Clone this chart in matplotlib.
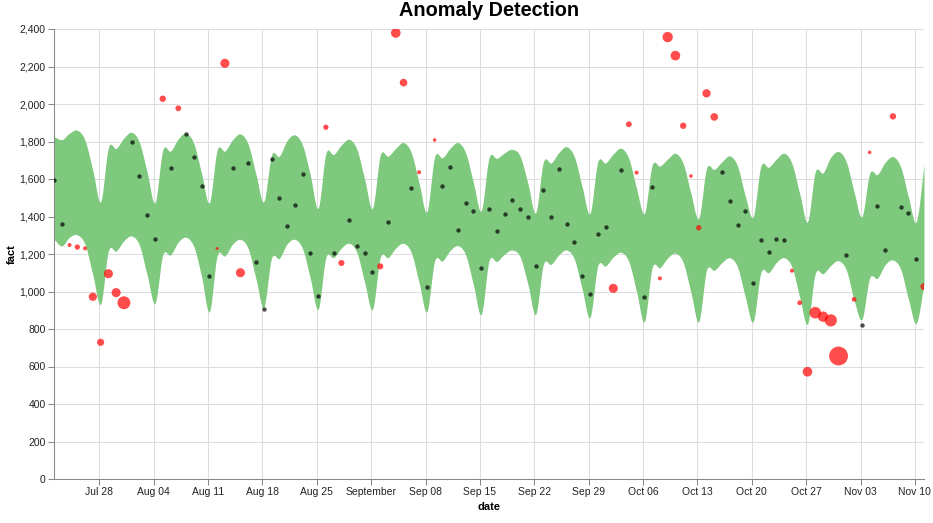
import matplotlib
matplotlib.use("Agg")
import matplotlib.pyplot as plt
import matplotlib.dates as mdates
from matplotlib.ticker import FixedLocator, FuncFormatter
import numpy as np
import pandas as pd

plt.rcParams["font.family"] = ["Liberation Sans", "DejaVu Sans"]

# daily observations, Jul 22 .. Nov 11 (timestamps sit a few hours past midnight)
dates = pd.date_range("2019-07-22 04:00", "2019-11-11 04:00", freq="D")

fact = [
    1595, 1362, 1248, 1237, 1230, 972, 729, 1095, 994, 940,
    1796, 1614, 1408, 1280, 2028, 1660, 1977, 1840, 1717, 1565,
    1081, 1229, 2217, 1659, 1100, 1685, 1159, 905, 1708, 1500,
    1351, 1461, 1627, 1205, 978, 1876, 1207, 1152, 1381, 1244,
    1205, 1102, 1134, 1372, 2379, 2114, 1554, 1636, 1023, 1808,
    1565, 1662, 1328, 1472, 1431, 1124, 1442, 1324, 1415, 1488,
    1442, 1397, 1136, 1543, 1397, 1655, 1360, 1262, 1083, 987,
    1308, 1344, 1017, 1650, 1892, 1634, 971, 1559, 1070, 2357,
    2258, 1884, 1616, 1340, 2057, 1931, 1637, 1485, 1353, 1428,
    1047, 1276, 1212, 1282, 1276, 1111, 940, 572, 887, 866,
    846, 656, 1193, 958, 820, 1742, 1458, 1220, 1934, 1451,
    1420, 1172, 1026,
]

# anomaly importance (0 = normal point)
importance = [
    0, 0, .03, .063, .03, .18, .13, .22, .22, .46,
    0, 0, 0, 0, .10, 0, .08, 0, 0, 0,
    0, .01, .22, 0, .22, 0, 0, 0, 0, 0,
    0, 0, 0, 0, 0, .063, 0, .09, 0, 0,
    0, 0, .09, 0, .25, .15, 0, .03, 0, .02,
    0, 0, 0, 0, 0, 0, 0, 0, 0, 0,
    0, 0, 0, 0, 0, 0, 0, 0, 0, 0,
    0, 0, .22, 0, .08, .03, 0, 0, .03, .29,
    .25, .10, .02, .063, .18, .15, 0, 0, 0, 0,
    0, 0, 0, 0, 0, .03, .05, .25, .37, .29,
    .41, 1.0, 0, .046, 0, .02, 0, 0, .10, 0,
    0, 0, .13,
]

upper = [
    1826, 1810, 1845, 1860, 1805, 1645,
    1479, 1768, 1763, 1819, 1849, 1794, 1634,
    1474, 1754, 1749, 1814, 1844, 1789, 1629,
    1474, 1754, 1749, 1810, 1840, 1785, 1625,
    1479, 1727, 1722, 1805, 1835, 1780, 1620,
    1444, 1736, 1731, 1782, 1812, 1757, 1597,
    1444, 1727, 1722, 1764, 1794, 1739, 1579,
    1426, 1718, 1713, 1764, 1794, 1739, 1579,
    1431, 1713, 1710, 1740, 1758, 1722, 1577,
    1420, 1691, 1686, 1742, 1772, 1717, 1557,
    1417, 1691, 1686, 1734, 1764, 1709, 1549,
    1417, 1674, 1669, 1707, 1737, 1682, 1522,
    1390, 1656, 1651, 1693, 1723, 1668, 1508,
    1399, 1668, 1663, 1707, 1737, 1682, 1522,
    1372, 1638, 1633, 1716, 1746, 1691, 1531,
    1399, 1629, 1624, 1689, 1719, 1664, 1504,
    1372, 1675,
]

lower = [
    1278, 1243, 1290, 1302, 1250, 1088,
    933, 1216, 1216, 1271, 1296, 1246, 1086,
    937, 1195, 1195, 1264, 1289, 1239, 1079,
    892, 1190, 1190, 1253, 1278, 1228, 1068,
    916, 1177, 1177, 1253, 1278, 1228, 1068,
    905, 1181, 1181, 1232, 1257, 1207, 1047,
    905, 1181, 1181, 1232, 1257, 1207, 1047,
    892, 1163, 1163, 1219, 1244, 1194, 1034,
    878, 1163, 1160, 1200, 1221, 1185, 1040,
    878, 1145, 1145, 1196, 1221, 1171, 1011,
    862, 1136, 1136, 1184, 1209, 1159, 999,
    839, 1127, 1127, 1179, 1204, 1154, 994,
    839, 1113, 1113, 1155, 1180, 1130, 970,
    839, 1101, 1101, 1155, 1180, 1130, 970,
    827, 1095, 1095, 1139, 1164, 1114, 954,
    852, 1071, 1071, 1143, 1168, 1118, 958,
    830, 1040,
]

y_ticks = list(range(0, 2401, 200))


def smooth(x, y, steps=20):
    # catmull-rom style curve through the daily values
    x = np.asarray(x, float)
    y = np.asarray(y, float)
    m = np.empty_like(y)
    m[1:-1] = (y[2:] - y[:-2]) / 2
    m[0] = y[1] - y[0]
    m[-1] = y[-1] - y[-2]
    t = np.linspace(0, 1, steps, endpoint=False)
    h00 = 2 * t**3 - 3 * t**2 + 1
    h10 = t**3 - 2 * t**2 + t
    h01 = -2 * t**3 + 3 * t**2
    h11 = t**3 - t**2
    xs, ys = [], []
    for i in range(len(x) - 1):
        xs.append(x[i] + t * (x[i + 1] - x[i]))
        ys.append(h00 * y[i] + h10 * m[i] + h01 * y[i + 1] + h11 * m[i + 1])
    xs.append([x[-1]])
    ys.append([y[-1]])
    return np.concatenate(xs), np.concatenate(ys)


xnum = mdates.date2num(dates)
xu, yu = smooth(xnum, upper)
xl, yl = smooth(xnum, lower)

fig = plt.figure(figsize=(9.33, 5.23), dpi=100)
ax = fig.add_axes([54 / 933, 1 - 479 / 523, 870 / 933, 450 / 523])

ax.fill_between(xu, yl, yu, color="#7fc97f", lw=0, zorder=2)

fact = np.array(fact)
importance = np.array(importance)
normal = importance == 0
ax.scatter(xnum[normal], fact[normal], s=10, color="black", alpha=0.7,
           lw=0, zorder=3)
ax.scatter(xnum[~normal], fact[~normal], s=importance[~normal] * 181 + 3,
           color="red", alpha=0.7, lw=0, zorder=3)

ax.set_xlim(xnum[0], xnum[-1])
ax.set_ylim(0, 2400)

sundays = [d.normalize() for d in dates if d.weekday() == 6]
ax.xaxis.set_major_locator(FixedLocator(mdates.date2num(sundays)))


def date_label(v, pos):
    d = mdates.num2date(v)
    if d.day == 1:
        return d.strftime("%B")
    return d.strftime("%b %d")


ax.xaxis.set_major_formatter(FuncFormatter(date_label))
ax.set_yticks(y_ticks)
ax.yaxis.set_major_formatter(FuncFormatter(lambda v, p: f"{int(v):,}"))

ax.set_axisbelow(True)
ax.grid(True, color="#dddddd", lw=0.75, zorder=0)
for side in ["top", "right"]:
    ax.spines[side].set_visible(False)
for side in ["left", "bottom"]:
    ax.spines[side].set_color("#888888")
    ax.spines[side].set_linewidth(0.75)
ax.tick_params(length=4, width=0.75, color="#888888", labelsize=7.5,
               labelcolor="#222222", pad=2)

ax.set_xlabel("date", fontsize=8, fontweight="bold", labelpad=3)
ax.set_ylabel("fact", fontsize=8, fontweight="bold", labelpad=2)
fig.text(489 / 933, 1 - 16.5 / 523, "Anomaly Detection", fontsize=14.3,
         fontweight="bold", ha="center", va="baseline")

fig.savefig("out.png", dpi=100)
